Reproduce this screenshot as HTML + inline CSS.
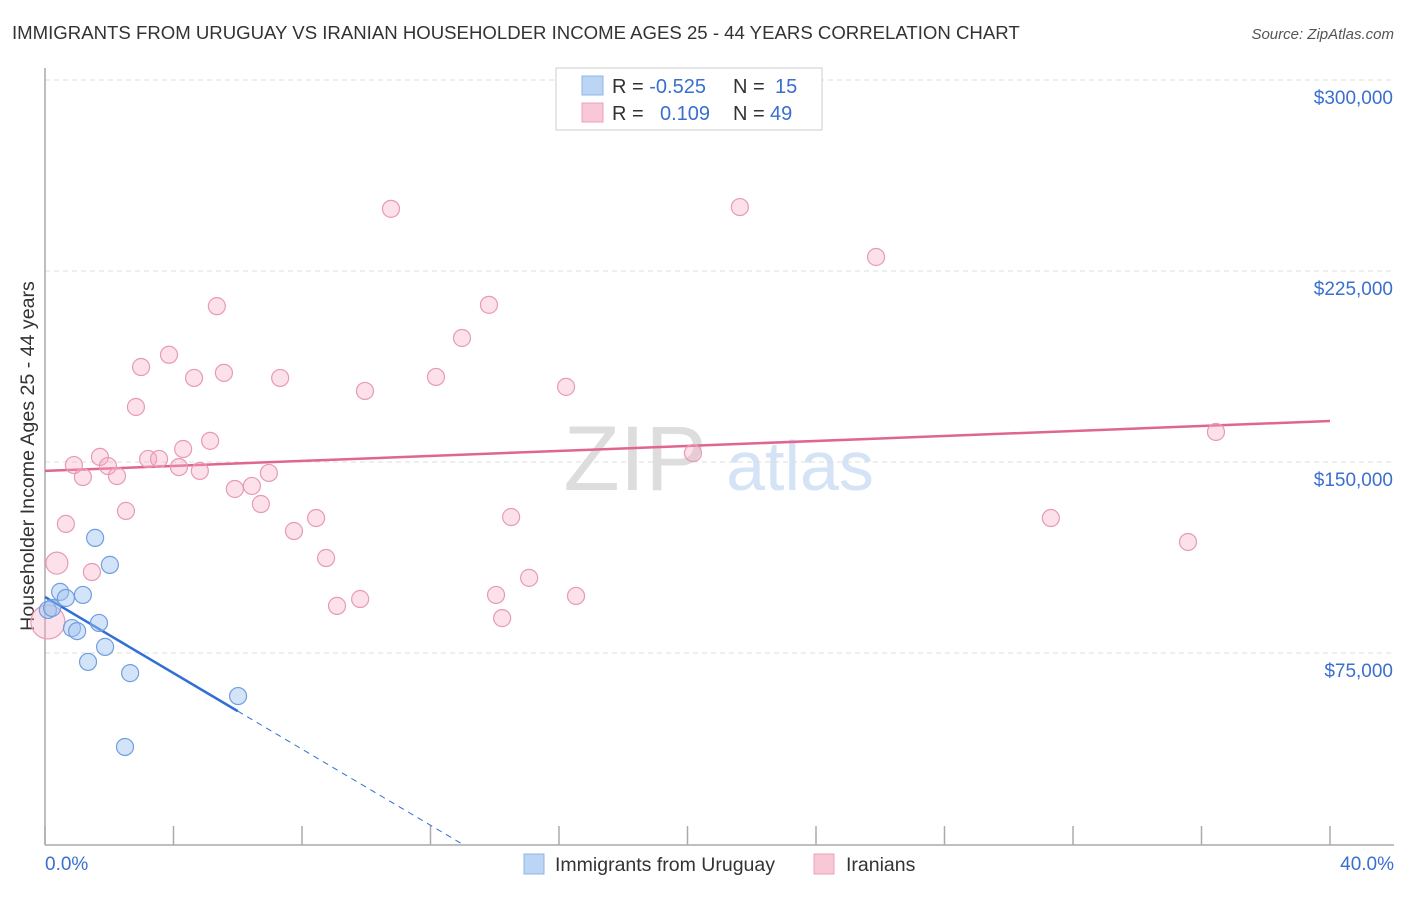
<!DOCTYPE html>
<html><head><meta charset="utf-8">
<style>
body{margin:0;background:#fff;font-family:"Liberation Sans",sans-serif;}
svg text{font-family:"Liberation Sans",sans-serif;}
</style></head>
<body>
<svg id="chart" width="1406" height="892" xmlns="http://www.w3.org/2000/svg">
<text x="12" y="39" font-size="18.6" fill="#333">IMMIGRANTS FROM URUGUAY VS IRANIAN HOUSEHOLDER INCOME AGES 25 - 44 YEARS CORRELATION CHART</text>
<text x="1394" y="39" font-size="15" fill="#555" font-style="italic" text-anchor="end">Source: ZipAtlas.com</text>
<text transform="translate(34,456) rotate(-90)" font-size="19.6" fill="#333" text-anchor="middle">Householder Income Ages 25 - 44 years</text>
<g>
<text x="635" y="490" font-size="92" fill="#ddd" font-family="Liberation Serif" text-anchor="middle">ZIP</text>
<text x="800" y="490" font-size="70" fill="#d4e3f5" text-anchor="middle">atlas</text>
</g>
<g id="grid"></g><g id="axes"></g><g id="lines"></g><g id="points"></g>
<g>
<rect x="556" y="68" width="266" height="62" fill="#fff" stroke="#ccc"/>
<rect x="582" y="76" width="21" height="19" fill="#bcd5f5" stroke="#8fb4e6"/>
<rect x="582" y="103" width="21" height="19" fill="#f9c8d6" stroke="#eda0b8"/>
<text x="612" y="93" font-size="20" fill="#333">R = <tspan fill="#3a6fcf">-0.525</tspan></text>
<text x="733" y="93" font-size="20" fill="#333">N = <tspan fill="#3a6fcf" x="775">15</tspan></text>
<text x="612" y="120" font-size="20" fill="#333">R = <tspan fill="#3a6fcf" x="660">0.109</tspan></text>
<text x="733" y="120" font-size="20" fill="#333">N = <tspan fill="#3a6fcf" x="770">49</tspan></text>
</g>
<g>
<rect x="524" y="854" width="20" height="20" fill="#bcd5f5" stroke="#8fb4e6"/>
<text x="555" y="871" font-size="19.5" fill="#333">Immigrants from Uruguay</text>
<rect x="814" y="854" width="20" height="20" fill="#f9c8d6" stroke="#eda0b8"/>
<text x="846" y="871" font-size="19.5" fill="#333">Iranians</text>
</g>
</svg>
<script>
const yTicks=[75000,150000,225000,300000];
const yTickLabels=["$75,000","$150,000","$225,000","$300,000"];
const xTickValues=[0,4,8,12,16,20,24,28,32,36,40];
const xEndLabels=["0.0%","40.0%"];
const uruguayX=[1.56,2.02,0.47,0.65,1.18,0.09,0.22,0.84,1.0,1.68,1.87,1.34,2.65,6.01,2.49];
const uruguayY=[120.2,109.6,99.0,96.6,97.8,91.9,92.7,84.8,83.6,86.8,77.4,71.5,67.1,58.1,38.1];
const iranX=[10.77,21.63,25.87,5.35,13.82,12.98,3.86,2.99,4.64,5.57,7.32,12.17,9.96,16.22,2.83,5.14,36.45,4.30,0.90,1.71,1.96,2.24,1.18,3.21,3.55,4.17,4.82,6.97,20.17,5.91,6.44,6.72,2.52,0.65,8.44,7.75,14.51,31.31,35.58,0.37,1.46,8.75,15.07,14.04,16.53,9.81,9.09,14.23,0.09];
const iranY=[249.4,250.1,230.5,211.2,211.7,198.7,192.1,187.3,183.0,185.0,183.0,183.4,177.9,179.5,171.6,158.3,161.8,155.1,148.8,152.0,148.4,144.5,144.1,151.2,151.2,148.0,146.5,145.7,153.5,139.4,140.6,133.5,130.8,125.7,128.0,122.9,128.4,128.0,118.6,110.3,106.8,112.3,104.5,97.8,97.4,96.2,93.5,88.7,87.2];
const iranR=[8.5,8.5,8.5,8.5,8.5,8.5,8.5,8.5,8.5,8.5,8.5,8.5,8.5,8.5,8.5,8.5,8.5,8.5,8.5,8.5,8.5,8.5,8.5,8.5,8.5,8.5,8.5,8.5,8.5,8.5,8.5,8.5,8.5,8.5,8.5,8.5,8.5,8.5,8.5,11,8.5,8.5,8.5,8.5,8.5,8.5,8.5,8.5,17];
const uruguayTrend=[97.0,-7.47];
const iranTrend=[146.5,0.49];
const NS="http://www.w3.org/2000/svg";
const X=p=>45+p/40*1285;
const Y=k=>653-(k-75)/75*191;
function mk(tag,attrs,parent){const e=document.createElementNS(NS,tag);for(const k in attrs)e.setAttribute(k,attrs[k]);document.getElementById(parent).appendChild(e);return e;}
yTicks.forEach((t,i)=>{
  const y=Y(t/1000);
  let g=mk('line',{x1:45,x2:1394,y1:y,y2:y,stroke:'#ddd','stroke-dasharray':'5,4'},'grid');
  
  
  let l=mk('text',{x:1393,y:y+24,'font-size':19,fill:'#3a6fcf','text-anchor':'end'},'grid');
  l.textContent=yTickLabels[i];
  
  
});
let ax=mk('line',{x1:45,x2:45,y1:68,y2:845,stroke:'#aaa','stroke-width':1.5},'axes');


let bx=mk('line',{x1:45,x2:1394,y1:845,y2:845,stroke:'#aaa','stroke-width':1.5},'axes');


xTickValues.forEach(v=>{
  let t=mk('line',{x1:X(v),x2:X(v),y1:826,y2:845,stroke:'#aaa','stroke-width':1.5},'axes');
  
  
});
let xl0=mk('text',{x:45,y:870,'font-size':19,fill:'#3a6fcf'},'axes');xl0.textContent=xEndLabels[0];


let xl1=mk('text',{x:1394,y:870,'font-size':19,fill:'#3a6fcf','text-anchor':'end'},'axes');xl1.textContent=xEndLabels[1];


iranX.forEach((x,i)=>{
  let c=mk('circle',{cx:X(x),cy:Y(iranY[i]),r:iranR[i],fill:'rgba(245,170,195,0.35)',stroke:'#e89ab3','stroke-width':1.2},'points');
  
  
});
uruguayX.forEach((x,i)=>{
  let c=mk('circle',{cx:X(x),cy:Y(uruguayY[i]),r:8.5,fill:'rgba(160,195,240,0.45)',stroke:'#6f9ee0','stroke-width':1.2},'points');
  
  
});
const f=(t,x)=>t[0]+t[1]*x;
let pl=mk('line',{x1:X(0),y1:Y(f(iranTrend,0)),x2:X(40),y2:Y(f(iranTrend,40)),stroke:'#e0658f','stroke-width':2.5},'lines');


const bEnd=-uruguayTrend[0]/uruguayTrend[1];
let bl=mk('line',{x1:X(0),y1:Y(f(uruguayTrend,0)),x2:X(6.0),y2:Y(f(uruguayTrend,6.0)),stroke:'#2f6fd6','stroke-width':2.5},'lines');


let bd=mk('line',{x1:X(6.0),y1:Y(f(uruguayTrend,6.0)),x2:X(bEnd),y2:Y(0),stroke:'#2f6fd6','stroke-width':1,'stroke-dasharray':'6,5'},'lines');


</script>
</body></html>
